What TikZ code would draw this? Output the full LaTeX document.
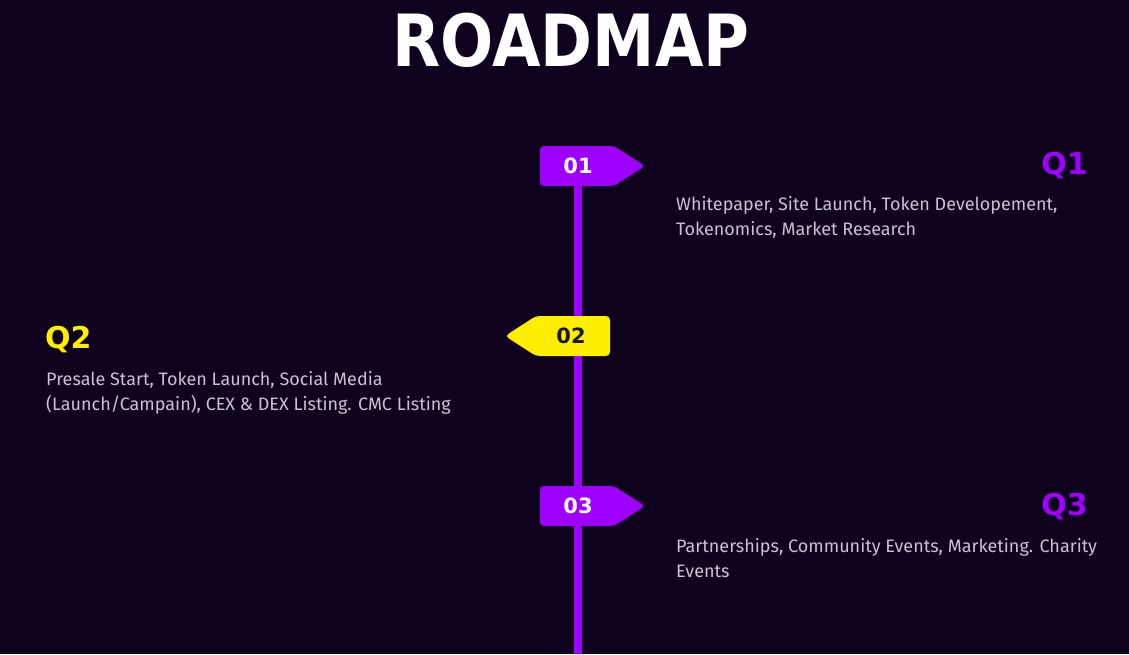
\documentclass[tikz,border=0pt]{standalone}
\usepackage{fontspec}
\setmainfont{Fira Sans}
\newfontfamily\blockfont{DejaVu Sans}[BoldFont={DejaVu Sans Bold}]
\usetikzlibrary{positioning}

\definecolor{bgdark}{HTML}{0F021E}
\definecolor{roadpurple}{HTML}{9D00FF}
\definecolor{roadyellow}{HTML}{FFEE00}
\definecolor{bodygray}{HTML}{C9C2D2}
\definecolor{tagdark}{HTML}{1A1A1A}

\tikzset{
  quarter/.style={font=\blockfont\bfseries\fontsize{30}{30}\selectfont, inner sep=0pt},
  tagnum/.style={font=\blockfont\bfseries\fontsize{21}{21}\selectfont, inner sep=0pt},
  itemtext/.style={font=\fontsize{18}{25}\selectfont, text=bodygray, align=left,
    inner sep=0pt, anchor=north west},
  tagshape/.style={rounded corners=4pt}
}

\begin{document}
\begin{tikzpicture}[x=1pt, y=-1pt]
  \fill[bgdark] (0,0) rectangle (1129,654);
  \useasboundingbox (0,0) rectangle (1129,654);

  % title
  \node[font=\blockfont\bfseries\fontsize{72}{72}\selectfont, text=white, inner sep=0pt,
        xscale=0.87] (title) at (571,40) {ROADMAP};

  % timeline
  \coordinate (lineend) at (578,654);
  \coordinate (linestart) at (578,180);
  \draw[roadpurple, line width=8pt] (linestart) -- (lineend);

  % tag 01
  \fill[roadpurple, tagshape] (540,146) -- (614,146) -- (645,166) -- (614,186) -- (540,186) -- cycle;
  \node[tagnum, text=white] (t1) at (578,166) {01};
  % tag 02
  \fill[roadyellow, tagshape] (610,316) -- (536,316) -- (505,336) -- (536,356) -- (610,356) -- cycle;
  \node[tagnum, text=tagdark] (t2) at (571,336) {02};
  % tag 03
  \fill[roadpurple, tagshape] (540,486) -- (614,486) -- (645,506) -- (614,526) -- (540,526) -- cycle;
  \node[tagnum, text=white] (t3) at (578,506) {03};

  % quarters
  \node[quarter, text=roadpurple, anchor=east] (q1) at (1088,166) {Q1};
  \node[itemtext] (d1) at (676,196) {Whitepaper, Site Launch, Token Developement,\\Tokenomics, Market Research};

  \node[quarter, text=roadyellow, anchor=west] (q2) at (45,340) {Q2};
  \node[itemtext] (d2) at (46,371) {Presale Start, Token Launch, Social Media\\(Launch/Campain), CEX \& DEX Listing. CMC Listing};

  \node[quarter, text=roadpurple, anchor=east] (q3) at (1088,507) {Q3};
  \node[itemtext] (d3) at (676,538) {Partnerships, Community Events, Marketing. Charity\\Events};
\end{tikzpicture}
\end{document}
